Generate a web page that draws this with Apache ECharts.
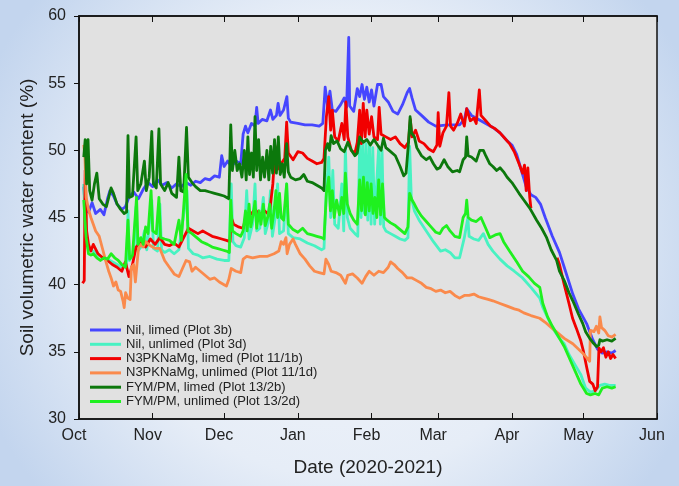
<!DOCTYPE html>
<html>
<head>
<meta charset="utf-8">
<script src="https://cdn.jsdelivr.net/npm/echarts@6/dist/echarts.min.js"></script>
<style>
  html, body { margin: 0; padding: 0; }
  #chart { width: 679px; height: 486px; }
</style>
</head>
<body>
<div id="chart"></div>
<script>
// days since 1 Oct 2020, soil water content (%)
const monthLabels = ['Jan', 'Feb', 'Mar', 'Apr', 'May', 'Jun', 'Jul', 'Aug', 'Sep', 'Oct', 'Nov', 'Dec'];
const seriesNames = [
  'Nil, limed (Plot 3b)',
  'Nil, unlimed (Plot 3d)',
  'N3PKNaMg, limed (Plot 11/1b)',
  'N3PKNaMg, unlimed (Plot 11/1d)',
  'FYM/PM, limed (Plot 13/2b)',
  'FYM/PM, unlimed (Plot 13/2d)'
];

const nilLimed = [[2,47.3],[2.6,45.8],[4,45.4],[5.5,46.1],[7,45.3],[9,45.6],[10.5,45.2],[12,46.4],[13,47.0],[14.5,46.6],[16,46.0],[18,45.6],[19.5,45.8],[21,46.5],[23,46.9],[25,46.4],[27,47.1],[29,47.6],[31,47.3],[33,47.8],[35,47.4],[37,47.6],[39,47.2],[41,47.5],[43,47.3],[45,47.6],[47,47.4],[49,47.7],[51,47.6],[53,47.9],[55,47.8],[57,48.1],[59,48.0],[60,49.6],[61,48.8],[62.5,49.2],[64,48.8],[66,49.2],[68,49.0],[69,51.2],[70,51.8],[71,51.3],[72.5,52.0],[74,51.8],[74.7,53.2],[75.3,52.0],[77,52.3],[79,52.2],[80.5,53.0],[81.5,52.3],[83,52.6],[83.7,53.5],[84.5,52.6],[86,53.0],[87.4,54.0],[88,52.4],[89,52.1],[92,52.0],[95,51.9],[98,51.9],[101,51.8],[102.5,52.0],[103.5,54.7],[104.5,53.3],[105.5,54.4],[106.5,53.0],[108,52.9],[110,53.4],[111.5,53.9],[112.5,53.2],[113.4,58.4],[113.8,53.3],[115.5,52.9],[117,54.6],[118,54.0],[119,54.9],[120,53.8],[121,54.7],[122,53.6],[123,54.5],[124,53.3],[125.5,54.9],[127,54.9],[128,54.0],[130,53.6],[132,52.9],[134,52.7],[136,53.4],[138,54.3],[139,54.6],[140,53.9],[141.5,53.0],[144,52.6],[147,52.1],[150,51.8],[155,51.9],[160,51.9],[162,52.3],[163,53.1],[165,52.6],[168,52.3],[171,52.0],[174,51.7],[177,51.3],[180,50.7],[182,50.4],[184,49.7],[186,48.5],[188,47.3],[190,46.7],[192,46.5],[194,46.0],[196,45.0],[199,43.6],[202,42.4],[204,41.3],[207.6,39.3],[210,38.2],[213.4,37.1],[216,35.9],[218,35.2],[220,34.9],[222,35.0],[224,34.9],[225.6,35.1]];

const nilUnlimed = [[2,47.5],[2.5,44.5],[3.2,43.0],[4,42.6],[6,42.5],[8,42.2],[10,42.0],[12,41.9],[14,41.7],[16,41.5],[18,41.3],[20,41.4],[20.6,45.5],[21.2,41.8],[23,42.3],[24,45.8],[24.7,42.5],[26,42.8],[27.5,44.0],[28.5,42.6],[30.6,46.3],[31.3,42.7],[33,42.5],[34,46.0],[34.7,42.6],[36,42.4],[38,42.6],[40,42.3],[42,42.6],[45.4,47.0],[46,42.7],[48,42.3],[50,42.2],[52,42.0],[55,42.1],[58,41.9],[61,41.8],[63,41.8],[64,47.5],[64.7,43.2],[66,42.9],[68,42.8],[69.5,43.5],[70.5,47.0],[71.5,43.4],[73,44.5],[74,47.5],[74.7,44.0],[76,44.2],[77.5,46.5],[78.3,43.8],[79.5,44.6],[80.5,47.0],[81.3,43.6],[82.5,45.0],[83.5,47.5],[84.3,43.8],[86,44.0],[87.3,47.5],[88,43.8],[90,43.5],[93,43.4],[96,43.1],[99,42.9],[102,42.6],[103,42.7],[104,47.0],[105,49.5],[105.8,45.0],[106.7,48.5],[107.5,44.5],[109,44.2],[110.5,47.5],[111.3,44.0],[112,50.2],[112.8,45.0],[114,44.2],[116,43.8],[117.2,43.6],[118,50.5],[118.6,45.0],[119.3,50.6],[120,45.3],[120.7,50.5],[121.4,44.8],[122.1,50.5],[122.8,44.5],[123.5,50.2],[124.3,44.5],[125,47.0],[126,50.3],[126.7,44.5],[127.4,50.0],[128.1,44.3],[129,44.0],[131,43.8],[133,43.6],[135,43.4],[137,43.3],[138.3,43.5],[139,50.3],[139.7,46.5],[141,45.5],[143,44.8],[146,44.0],[149,43.2],[152,42.5],[154,42.6],[156,42.4],[158,42.0],[160,42.0],[162,43.5],[163.5,45.0],[164,43.6],[166,43.4],[168,43.3],[170,43.8],[172,43.0],[174,42.5],[177,41.9],[180,41.4],[183,41.0],[186.5,40.5],[190,39.8],[193.7,39.0],[195,38.3],[199,36.8],[202,36.0],[204,35.6],[206,34.8],[209,33.9],[211,33.3],[213,32.3],[215,32.0],[217,32.1],[219,32.5],[221,32.6],[223,32.5],[225.6,32.5]];

const n3Limed = [[1.5,40.1],[2.2,40.3],[2.6,48.5],[3.2,44.0],[4,43.0],[5,42.5],[6,43.0],[8,42.3],[10,42.0],[12,41.8],[14,41.5],[16,41.3],[18,41.0],[19.5,41.7],[21,40.6],[22.5,41.5],[24,42.8],[26,43.2],[28,42.8],[30,43.4],[32,43.0],[34,43.5],[36,43.0],[38,42.9],[40,43.1],[42,42.8],[44,43.5],[46,44.2],[48,44.0],[50,43.8],[52,44.0],[54,43.8],[56,43.6],[58,43.5],[60,43.4],[62,43.3],[63.5,43.2],[64,45.0],[65,44.5],[67,44.3],[69,44.2],[70.5,45.3],[72,45.2],[74,45.6],[76,45.2],[78,45.5],[80,45.2],[81.5,47.5],[82.5,50.3],[83.5,48.6],[85,49.0],[86.5,49.4],[87.3,52.1],[88,49.8],[90,49.3],[92,49.9],[94,49.8],[96,49.4],[98,49.2],[100,49.0],[102,49.1],[103,49.4],[104,52.5],[105,54.0],[105.8,51.5],[106.5,53.0],[107.5,51.0],[109,50.7],[110.5,52.0],[111.5,50.8],[112.2,53.6],[113,51.0],[114.5,50.0],[116,49.8],[117,50.6],[118,53.0],[118.7,50.5],[119.5,53.5],[120.3,51.0],[121,53.0],[122,51.2],[123,52.5],[124,51.0],[125.5,50.8],[126.2,53.2],[127,51.2],[129,51.0],[131,50.8],[133,51.0],[135,50.5],[137,50.2],[138.5,50.6],[139.3,52.3],[140,51.0],[141.5,51.5],[143,50.7],[145,50.5],[147,50.1],[149,49.9],[150.5,50.4],[151,52.8],[151.7,50.3],[153,51.3],[154.5,51.8],[155.5,54.3],[156.2,51.8],[157.5,51.5],[159,52.0],[160.5,52.7],[162,51.8],[163,53.1],[164.5,52.2],[166,52.4],[167,52.0],[168.3,54.5],[169,52.6],[171,52.2],[173,51.8],[175,51.6],[177,51.3],[179,50.9],[181,50.5],[183,49.9],[185,49.0],[186.5,48.3],[187.3,48.9],[188,47.0],[188.7,48.7],[189.5,46.5],[190,45.7],[195,null],[201,42.0],[202,41.5],[204,40.0],[206,38.6],[207.5,37.5],[209,36.8],[211,35.8],[212,35.1],[213.5,33.8],[214.7,32.8],[216,32.6],[217,32.1],[218,32.4],[218.4,32.3],[218.6,35.3],[219.5,35.0],[220.5,35.3],[221.5,34.6],[222.5,35.0],[223.5,34.5],[224.5,34.8],[225.6,34.5]];

const n3Unlimed = [[2,50.4],[2.5,49.5],[3,46.5],[4,45.6],[5,45.0],[6,44.5],[7,44.0],[8.5,43.6],[10,42.6],[11.5,41.6],[12.5,41.0],[13.5,40.5],[14.5,39.9],[15.5,40.2],[16.5,39.6],[17.5,39.5],[18.5,38.8],[19,38.3],[19.6,39.4],[20.5,39.0],[21.5,38.9],[22,41.3],[23,41.5],[23.7,40.2],[24.5,40.3],[25,42.7],[26,43.0],[27,42.8],[28,43.2],[30,42.9],[32,42.7],[34,42.7],[36,41.8],[38,41.3],[40,40.8],[42,40.6],[43.5,41.2],[45,41.8],[46.5,41.7],[47.5,41.0],[49,41.3],[51,41.0],[53,40.7],[55,40.4],[57,40.5],[59,40.2],[61,40.0],[62,39.9],[63,40.4],[64,41.2],[66,41.0],[68,40.9],[69,41.9],[70.5,42.1],[73,42.0],[76,42.1],[79,42.1],[82,42.3],[84,42.5],[85,43.2],[86,43.0],[87,43.5],[87.5,42.3],[88.5,43.0],[90,43.4],[91,43.0],[93,42.3],[95,41.9],[97,41.4],[99,41.0],[101,40.9],[103,40.8],[103.8,41.9],[105,41.5],[106,41.0],[108,40.9],[110,40.7],[112,40.1],[113,40.7],[115,40.8],[117,40.5],[119,40.1],[120.5,40.6],[122,41.0],[124,40.7],[126,41.0],[128,40.9],[130,41.3],[131,41.7],[132.5,41.5],[134,41.2],[136,40.9],[138,40.5],[140,40.5],[142,40.3],[144,40.1],[146,39.8],[148,39.7],[150,39.5],[152,39.6],[154,39.4],[156,39.5],[158,39.2],[160,39.0],[162,39.2],[164,39.2],[166,39.3],[168,39.1],[170,39.0],[172,38.9],[174,38.8],[177,38.6],[180,38.4],[183,38.2],[185,38.1],[187,37.9],[190,37.7],[193.7,37.5],[196,37.2],[198,36.9],[202,36.3],[204,36.0],[207.6,35.6],[211.8,34.9],[214.7,34.3],[215,36.6],[216.5,36.5],[217.5,36.9],[218.5,36.4],[219,37.6],[219.7,36.8],[221,36.6],[222.5,36.2],[224,36.1],[225.6,36.3]];

const fymLimed = [[2,49.5],[2.6,50.8],[3.2,47.5],[3.8,50.8],[4.5,47.0],[5.5,46.3],[6.5,47.5],[7.5,48.3],[8.5,46.4],[10,46.0],[11.5,45.8],[12.5,46.5],[13.5,47.2],[14.5,46.8],[16,46.0],[17.5,45.6],[19,45.3],[20,45.4],[20.6,51.1],[21.2,46.5],[22.5,46.6],[24,51.0],[24.7,47.0],[26,47.5],[27.5,49.2],[28.3,47.0],[29.5,48.0],[30.6,51.4],[31.3,47.5],[32.5,47.2],[33.6,51.6],[34.3,47.5],[36,47.0],[37.5,47.6],[39,46.8],[41,46.5],[42,49.5],[42.8,47.0],[44,46.9],[45.2,51.7],[46,48.0],[47.5,47.6],[49,47.3],[51,47.0],[53,47.0],[55,46.9],[57,46.8],[59,46.7],[61,46.6],[63,46.4],[63.8,51.9],[64.5,48.5],[65.5,50.0],[66.5,48.5],[67.5,49.0],[68.5,48.0],[69.5,50.0],[70.3,47.8],[71,51.0],[71.7,48.2],[72.5,49.8],[73.3,48.0],[74,52.5],[74.7,48.5],[75.5,50.8],[76.3,47.8],[77.2,49.5],[78,48.0],[79,50.0],[79.8,47.8],[80.6,50.3],[81.4,48.3],[82.2,50.8],[83,48.3],[83.8,51.0],[84.6,48.2],[85.5,49.0],[86.3,48.0],[87.3,50.5],[88,48.4],[89,48.0],[91,47.8],[93,47.9],[94.5,48.2],[96,47.7],[98,47.6],[100,47.4],[102,47.2],[103,47.0],[103.6,50.0],[104.5,50.5],[105.3,50.0],[106,51.1],[107,50.5],[108.5,50.7],[110,50.1],[111.5,49.9],[113,50.6],[114.5,50.0],[116,49.6],[117,49.8],[118,51.0],[119.5,50.6],[121,50.8],[122.5,50.4],[124,50.8],[125.5,50.4],[127,50.0],[128,50.9],[129,50.2],[131,49.9],[133,49.6],[135,48.8],[136.5,48.1],[137.5,48.3],[138.5,50.5],[139.2,52.5],[139.8,51.3],[141,51.0],[142,50.2],[144,49.6],[146,49.3],[147.5,49.5],[149,49.0],[150.5,48.6],[151.7,48.7],[153.5,49.3],[155,48.8],[157,48.4],[159,48.5],[160,48.4],[161.5,49.3],[162.5,49.5],[163,51.0],[163.6,49.6],[165,49.5],[167,49.2],[168.5,50.0],[170,50.0],[171,49.6],[172.7,49.0],[174,48.8],[175.6,48.5],[177,48.7],[178.5,48.4],[180,48.0],[182,47.6],[185,46.8],[187,46.3],[189.5,45.7],[192.4,44.8],[194.5,44.2],[196.6,43.5],[198.5,42.6],[200.8,41.8],[202,41.0],[204,40.3],[206,39.4],[207.6,38.8],[210,37.8],[211.8,37.1],[213,36.5],[214.7,36.0],[216,35.7],[217.6,35.4],[218.5,35.5],[219,35.9],[220,35.8],[222,35.9],[224,35.8],[225.6,36.0]];

const fymUnlimed = [[2,46.3],[2.5,44.8],[3,43.5],[4,42.3],[5,42.2],[6,42.3],[7.5,42.0],[9,41.8],[10.5,42.0],[12,41.9],[13.5,42.3],[15,42.0],[16.5,41.8],[18,41.5],[19.5,41.3],[20.6,44.8],[21.3,41.9],[22.5,42.2],[24.2,46.5],[24.8,43.0],[26,43.5],[27,43.0],[28,44.3],[29,43.8],[30.3,47.0],[31,44.0],[32.5,43.8],[33.6,46.5],[34.3,43.5],[36,43.4],[38,43.3],[40,43.0],[42,44.8],[43,43.3],[45,48.2],[45.8,44.0],[47.5,43.8],[49.5,43.5],[51.5,43.2],[54,43.0],[56,42.8],[58,42.7],[60,42.6],[62,42.5],[63.2,42.4],[63.8,46.3],[64.5,44.0],[66,43.8],[68,43.6],[69,44.0],[70,45.5],[70.7,44.0],[71.5,46.0],[72.2,44.3],[73.2,45.2],[74,46.2],[74.7,44.2],[75.7,45.5],[76.5,44.5],[77.5,46.0],[78.3,44.4],[79.3,45.0],[80.2,46.0],[81,44.2],[82,45.5],[82.8,47.0],[83.5,45.0],[84.3,46.8],[85,45.0],[86,44.8],[87.3,47.5],[88,44.5],[90,44.1],[92,43.9],[94,44.2],[96,43.8],[98,43.7],[100,43.6],[102,43.5],[103,43.4],[104,46.8],[105,48.0],[105.7,45.5],[106.5,47.0],[107.3,45.0],[108.3,46.3],[109.5,45.2],[110.5,46.5],[111.3,45.3],[112,48.3],[112.8,46.0],[114,45.3],[115.5,44.8],[117,44.5],[118,47.8],[118.8,45.5],[119.6,48.0],[120.4,45.2],[121.2,47.6],[122,45.5],[122.8,47.5],[123.6,45.3],[124.4,46.5],[125.2,45.0],[126,47.8],[126.8,45.2],[127.6,47.5],[128.4,45.0],[129.5,44.8],[131,44.6],[133,44.4],[135,44.1],[137,43.8],[138.3,44.3],[139,46.8],[140,46.3],[141,46.0],[142.5,45.5],[144,45.1],[146,44.7],[148,44.3],[150,43.9],[151.7,43.8],[153,44.2],[154.5,44.4],[156,44.0],[158,43.6],[160,43.5],[161.5,45.0],[162.5,45.3],[163,46.3],[163.6,45.0],[165,44.8],[167,44.7],[169,45.0],[171,44.2],[172.7,43.5],[175,43.7],[177,43.8],[178.5,43.2],[181,42.5],[184,41.7],[186.5,41.0],[189,40.6],[191.5,40.1],[193.7,39.8],[195,38.6],[197,37.6],[199,36.9],[202,36.0],[204,35.4],[206,34.6],[209,33.4],[211,32.6],[213.4,31.9],[215,31.8],[217,31.9],[218.5,31.8],[220,32.3],[222,32.4],[224,32.3],[225.6,32.4]];

const seriesData = [nilLimed, nilUnlimed, n3Limed, n3Unlimed, fymLimed, fymUnlimed];
const seriesColors = ['#4646ff', '#48f2c2', '#f20000', '#fa8a4c', '#0c780c', '#1ff01f'];

const startTime = Date.UTC(2020, 9, 1);
const endTime = Date.UTC(2021, 5, 1);
const dayMs = 86400000;

const chart = echarts.init(document.getElementById('chart'));

const fontFamily = '"Liberation Sans", Arial, sans-serif';

const option = {
  useUTC: true,
  animation: false,
  backgroundColor: {
    type: 'radial', x: 0.5, y: 0.5, r: 0.8,
    colorStops: [
      { offset: 0, color: '#f3f6fb' },
      { offset: 0.6, color: '#e6edf7' },
      { offset: 1, color: '#c3d5ee' }
    ]
  },
  textStyle: { fontFamily: fontFamily },
  grid: {
    left: 79, right: 22, top: 16, bottom: 67,
    show: true,
    backgroundColor: '#e1e1e1',
    borderColor: '#111',
    borderWidth: 1.5
  },
  legend: {
    orient: 'vertical',
    left: 90,
    top: 323,
    padding: 0,
    itemGap: 0.3,
    itemWidth: 31,
    itemHeight: 3,
    icon: 'rect',
    data: seriesNames,
    textStyle: { fontSize: 13, color: '#222', lineHeight: 14, fontFamily: fontFamily }
  },
  xAxis: [
    {
      type: 'time',
      min: startTime,
      max: endTime,
      splitNumber: 8,
      minInterval: 28 * dayMs,
      maxInterval: 31 * dayMs,
      name: 'Date (2020-2021)',
      nameLocation: 'middle',
      nameGap: 39,
      nameTextStyle: { fontSize: 19, color: '#222' },
      axisLine: { show: true, lineStyle: { color: '#111', width: 1.5 } },
      axisTick: { show: true, inside: true, length: 6, lineStyle: { color: '#111' } },
      axisLabel: {
        fontSize: 16,
        color: '#222',
        margin: 9,
        padding: [0, 10, 0, 0],
        showMinLabel: true,
        showMaxLabel: true,
        formatter: function (value) {
          return monthLabels[new Date(value).getUTCMonth()];
        }
      },
      splitLine: { show: false }
    },
    {
      type: 'time',
      position: 'top',
      min: startTime,
      max: endTime,
      splitNumber: 8,
      minInterval: 28 * dayMs,
      maxInterval: 31 * dayMs,
      axisLine: { show: true, lineStyle: { color: '#111', width: 1.5 } },
      axisTick: { show: true, inside: true, length: 6, lineStyle: { color: '#111' } },
      axisLabel: { show: false },
      splitLine: { show: false }
    }
  ],
  yAxis: {
    type: 'value',
    min: 30,
    max: 60,
    interval: 5,
    name: 'Soil volumetric water content (%)',
    nameLocation: 'middle',
    nameGap: 33,
    nameTextStyle: { fontSize: 19, color: '#222' },
    axisLine: { show: true, lineStyle: { color: '#111', width: 1.5 } },
    axisTick: { show: true, inside: false, length: 5, lineStyle: { color: '#111' } },
    axisLabel: { fontSize: 16, color: '#222', margin: 13 },
    splitLine: { show: false }
  },
  series: seriesData.map(function (rows, i) {
    return {
      name: seriesNames[i],
      type: 'line',
      xAxisIndex: 0,
      symbol: 'none',
      connectNulls: false,
      color: seriesColors[i],
      lineStyle: { width: 2.8, color: seriesColors[i], join: 'round' },
      data: rows.map(function (p) {
        return [startTime + p[0] * dayMs, p[1] === null ? '-' : p[1]];
      })
    };
  })
};

chart.setOption(option);
</script>
</body>
</html>
